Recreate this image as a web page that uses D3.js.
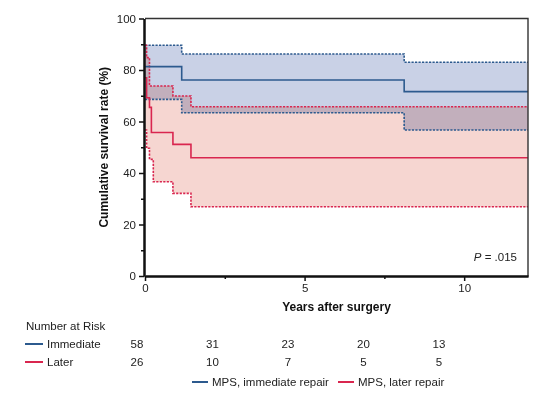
<!DOCTYPE html>
<html><head><meta charset="utf-8">
<script src="https://cdn.jsdelivr.net/npm/d3@7"></script>
<style>
body{margin:0;background:#fff;}
svg{display:block;font-family:"Liberation Sans",Arial,Helvetica,sans-serif;}
</style></head>
<body><svg id="c" width="554" height="393"></svg>
<script>
// ---- data ----
const immTime  = [0, 1.15, 8.12, 12];
const immSurv  = [81.3, 76.1, 71.6, 71.6];
const immUpper = [89.6, 86.2, 83.0, 83.0];
const immLower = [68.6, 63.4, 56.7, 56.7];

const latTime  = [0, 0.05, 0.14, 0.2, 0.26, 0.875, 1.44, 12];
const latSurv  = [77.0, 69.2, 65.5, 55.7, 55.7, 51.1, 45.9, 45.9];
const latUpper = [89.6, 84.8, 73.8, 73.8, 73.8, 69.9, 65.7, 65.7];
const latLower = [56.7, 49.6, 45.3, 45.3, 36.6, 32.1, 26.9, 26.9];

const yTicks = [0, 20, 40, 60, 80, 100];
const yMinor = [10, 30, 50, 70, 90];
const xTicks = [0, 5, 10];
const xMinor = [2.5, 7.5];

const riskGroups = ["Immediate", "Later"];
const immRisk = [58, 31, 23, 20, 13];
const latRisk = [26, 10, 7, 5, 5];
const legendLabels = ["MPS, immediate repair", "MPS, later repair"];

const blue = "#2c5a8e", red = "#d9264f";
const blueFill = "#c9d1e6", redFill = "#f6d6d1";

// ---- layout ----
const svg = d3.select("#c");
const x = d3.scaleLinear().domain([0, 12]).range([145, 528]);
const y = d3.scaleLinear().domain([0, 100]).range([276, 18.5]);

const zip = (t, a, b) => t.map((d, i) => ({t: d, a: a[i], b: b ? b[i] : null}));

const area = d3.area().curve(d3.curveStepAfter).x(d => x(d.t)).y0(d => y(d.b)).y1(d => y(d.a));
const line = d3.line().curve(d3.curveStepAfter).x(d => x(d.t)).y(d => y(d.a));

const g = svg.append("g");
g.append("path").datum(zip(immTime, immUpper, immLower)).attr("d", area).attr("fill", blueFill);
g.append("path").datum(zip(latTime, latUpper, latLower)).attr("d", area).attr("fill", redFill)
  .style("mix-blend-mode", "multiply");

const dash = "2.2,1.3";
[[immTime, immUpper, blue, dash], [immTime, immLower, blue, dash],
 [latTime, latUpper, red, dash], [latTime, latLower, red, dash],
 [immTime, immSurv, blue, null], [latTime, latSurv, red, null]].forEach(([t, v, c, d]) => {
  g.append("path").datum(zip(t, v)).attr("d", line).attr("fill", "none")
    .attr("stroke", c).attr("stroke-width", 1.6).attr("stroke-dasharray", d);
});

// frame (top/right)
svg.append("path").attr("d", `M${x(0)},${y(100)}H${x(12)}V${y(0)}`)
  .attr("fill", "none").attr("stroke", "#333").attr("stroke-width", 1.4);

// axes
svg.append("g").attr("transform", `translate(${x(0) - 1},0)`)
  .call(d3.axisLeft(y).tickValues(yTicks).tickSize(5).tickSizeOuter(0).tickPadding(3));
svg.append("g").attr("transform", `translate(${x(0) - 1},0)`)
  .call(d3.axisLeft(y).tickValues(yMinor).tickSize(3).tickSizeOuter(0).tickFormat(""));
svg.append("g").attr("transform", `translate(0,${y(0)})`)
  .call(d3.axisBottom(x).tickValues(xTicks).tickSize(5).tickSizeOuter(0).tickPadding(3));
svg.append("g").attr("transform", `translate(0,${y(0)})`)
  .call(d3.axisBottom(x).tickValues(xMinor).tickSize(3).tickSizeOuter(0).tickFormat(""));
svg.selectAll(".domain").attr("stroke", "#111").attr("stroke-width", 2);
svg.selectAll(".tick line").attr("stroke", "#111").attr("stroke-width", 1.5);
svg.selectAll(".tick text").attr("font-size", 11.5).attr("fill", "#222")
  .attr("font-family", "Liberation Sans, Arial, sans-serif");

// titles
svg.append("text").attr("x", (x(0) + x(12)) / 2).attr("y", 311).attr("text-anchor", "middle")
  .attr("font-size", 12).attr("font-weight", "bold").attr("fill", "#111").text("Years after surgery");
svg.append("text").attr("transform", `translate(108,${(y(0) + y(100)) / 2}) rotate(-90)`)
  .attr("text-anchor", "middle").attr("font-size", 12).attr("font-weight", "bold").attr("fill", "#111")
  .text("Cumulative survival rate (%)");

// P value
const pt = svg.append("text").attr("x", 517).attr("y", 261).attr("text-anchor", "end")
  .attr("font-size", 11.5).attr("fill", "#222");
pt.append("tspan").attr("font-style", "italic").text("P");
pt.append("tspan").text(" = .015");

// number at risk
const rx = d3.scaleLinear().domain([0, 4]).range([137, 439]);
svg.append("text").attr("x", 26).attr("y", 330).attr("font-size", 11.5).attr("fill", "#222").text("Number at Risk");
[[immRisk, blue, 348], [latRisk, red, 366]].forEach(([vals, c, yy], i) => {
  svg.append("line").attr("x1", 25).attr("x2", 43).attr("y1", yy - 4).attr("y2", yy - 4)
    .attr("stroke", c).attr("stroke-width", 2);
  svg.append("text").attr("x", 47).attr("y", yy).attr("font-size", 11.5).attr("fill", "#222").text(riskGroups[i]);
  svg.selectAll(null).data(vals).enter().append("text")
    .attr("x", (d, j) => rx(j)).attr("y", yy).attr("text-anchor", "middle")
    .attr("font-size", 11.5).attr("fill", "#222").text(d => d);
});

// legend
const leg = [[192, blue], [338, red]];
leg.forEach(([lx, c], i) => {
  svg.append("line").attr("x1", lx).attr("x2", lx + 16).attr("y1", 382).attr("y2", 382)
    .attr("stroke", c).attr("stroke-width", 2);
  svg.append("text").attr("x", lx + 20).attr("y", 386).attr("font-size", 11.5).attr("fill", "#222")
    .text(legendLabels[i]);
});
</script></body></html>
